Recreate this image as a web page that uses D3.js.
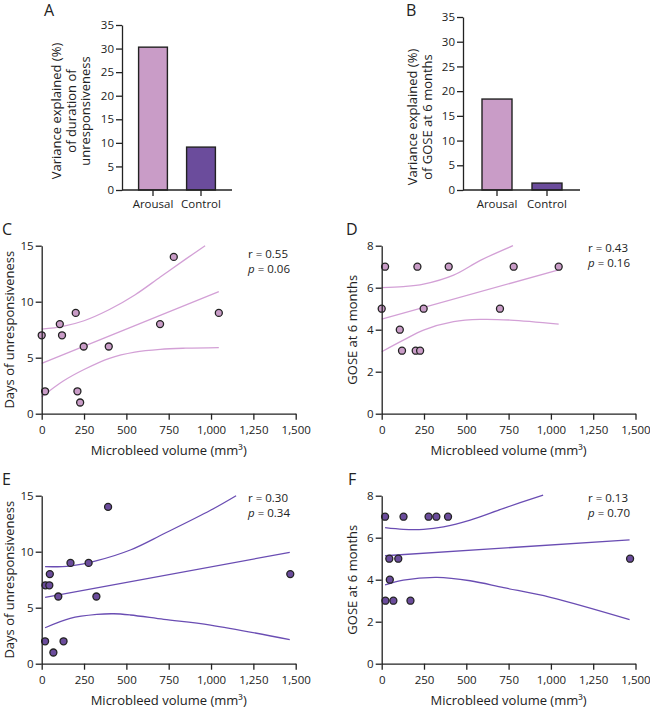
<!DOCTYPE html>
<html>
<head>
<meta charset="utf-8">
<script src="https://cdn.jsdelivr.net/npm/d3@7"></script>
<style>
  body { margin: 0; background: #fff; }
  text { font-family: "Open Sans", sans-serif; fill: #222; }
</style>
</head>
<body>
<script>
// bar panels (A, B)
const barCategories = ['Arousal', 'Control'];
const varianceDuration = [30.3, 9.1];
const varianceGose = [18.4, 1.4];
const varianceTicks = [0, 5, 10, 15, 20, 25, 30, 35];

// scatter panels (C-F): each subject's microbleed volume and outcome
const arousalVolume = [0, 20, 107, 120, 201, 211, 227, 248, 396, 699, 780, 1046];
const arousalDays = [7, 2, 8, 7, 9, 2, 1, 6, 6, 8, 14, 9];
const arousalGose = [5, 7, 4, 3, 3, 7, 3, 5, 7, 5, 7, 7];
const controlVolume = [20, 22, 45, 48, 69, 98, 129, 170, 277, 323, 392, 1468];
const controlDays = [2, 7, 7, 8, 1, 6, 2, 9, 9, 6, 14, 8];
const controlGose = [7, 3, 5, 4, 3, 5, 7, 3, 7, 7, 7, 5];

const volumeTicks = [0, 250, 500, 750, 1000, 1250, 1500];
const daysTicks = [0, 5, 10, 15];
const goseTicks = [0, 2, 4, 6, 8];

// regression lines and 95% bands as [volume, value]
const fitC = [[0, 4.5], [1046, 10.9]];
const upperC = [[0, 7.55], [125, 7.8], [250, 8.3], [400, 9.3], [550, 10.6], [700, 12.2], [850, 13.8], [965, 15]];
const lowerC = [[0, 1.5], [125, 2.9], [250, 3.95], [400, 4.95], [550, 5.5], [700, 5.75], [850, 5.85], [1046, 5.9]];
const fitD = [[0, 4.5], [1046, 6.85]];
const upperD = [[0, 6.0], [128, 6.05], [247, 6.17], [425, 6.6], [583, 7.3], [776, 8.0]];
const lowerD = [[0, 2.95], [128, 3.5], [247, 3.98], [425, 4.38], [583, 4.49], [760, 4.46], [1046, 4.27]];
const fitE = [[20, 5.92], [1465, 9.94]];
const upperE = [[20, 8.66], [168, 8.72], [326, 9.2], [523, 10.15], [721, 11.6], [997, 13.7], [1148, 15]];
const lowerE = [[20, 3.21], [168, 4.05], [326, 4.4], [425, 4.46], [523, 4.35], [721, 3.96], [997, 3.45], [1465, 2.14]];
const fitF = [[20, 5.14], [1465, 5.9]];
const upperF = [[20, 6.48], [128, 6.4], [247, 6.4], [365, 6.52], [523, 6.84], [721, 7.4], [954, 8.03]];
const lowerF = [[20, 3.75], [128, 3.98], [326, 4.11], [523, 3.95], [721, 3.62], [997, 3.16], [1465, 2.1]];

const rValues = ['0.55', '0.43', '0.30', '0.13'];
const pValues = ['0.06', '0.16', '0.34', '0.70'];

const arousalFill = '#c99cc7';
const controlFill = '#6b4c9c';
const arousalLine = '#d3a0d6';
const controlLine = '#6a4db3';
const ink = '#222';

const svg = d3.select('body').append('svg')
  .attr('width', 650)
  .attr('height', 708);

function styleAxis(g) {
  g.selectAll('path, line').attr('stroke', ink).attr('stroke-width', 1.3);
  g.selectAll('text').attr('font-size', 11.5).attr('fill', ink)
    .attr('font-family', '"Open Sans", sans-serif');
}

function panelLetter(letter, x, y) {
  svg.append('text').attr('x', x).attr('y', y)
    .attr('font-size', 16).text(letter);
}

// bar chart panel
function barPanel(o) {
  const y = d3.scaleLinear().domain([0, 35]).range([o.bottom, o.top]);
  const x = d3.scaleBand().domain(barCategories)
    .range([o.bandLeft, o.bandRight]).paddingInner(0.4).paddingOuter(0.2);

  svg.append('g').selectAll('rect')
    .data(o.values)
    .enter()
    .append('rect')
    .attr('x', (d, i) => x(barCategories[i]))
    .attr('y', d => y(d))
    .attr('width', x.bandwidth())
    .attr('height', d => o.bottom - y(d))
    .attr('fill', (d, i) => i === 0 ? arousalFill : controlFill)
    .attr('stroke', ink)
    .attr('stroke-width', 1.4);

  svg.append('g')
    .attr('transform', `translate(${o.left},0)`)
    .call(d3.axisLeft(y).tickValues(varianceTicks).tickSize(6).tickPadding(2).tickSizeOuter(0))
    .call(styleAxis);

  const xa = svg.append('g')
    .attr('transform', `translate(0,${o.bottom})`)
    .call(d3.axisBottom(x).tickSize(6).tickPadding(4).tickSizeOuter(0))
    .call(styleAxis);
  xa.select('.domain').remove();
  svg.append('line')
    .attr('x1', o.left).attr('x2', o.right)
    .attr('y1', o.bottom).attr('y2', o.bottom)
    .attr('stroke', ink).attr('stroke-width', 1.3);

  const label = svg.append('text')
    .attr('transform', `translate(${o.labelX},${o.labelY}) rotate(-90)`)
    .attr('text-anchor', 'middle')
    .attr('font-size', 13);
  o.label.forEach((line, i) => {
    label.append('tspan').attr('x', 0).attr('dy', i === 0 ? 0 : 14.5).text(line);
  });
}

// scatter panel with regression line and confidence band
function scatterPanel(o) {
  const x = d3.scaleLinear().domain([0, 1500]).range([o.left, o.right]);
  const y = d3.scaleLinear().domain([0, o.yMax]).range([o.bottom, o.top]);
  const line = d3.line().x(d => x(d[0])).y(d => y(d[1])).curve(d3.curveCatmullRom);

  [o.upper, o.fit, o.lower].forEach(pts => {
    svg.append('path')
      .datum(pts)
      .attr('d', line)
      .attr('fill', 'none')
      .attr('stroke', o.lineColor)
      .attr('stroke-width', 1.3);
  });

  svg.append('g').selectAll('circle')
    .data(o.xs.map((v, i) => ({ x: v, y: o.ys[i] })))
    .enter()
    .append('circle')
    .attr('cx', d => x(d.x))
    .attr('cy', d => y(d.y))
    .attr('r', 3.5)
    .attr('fill', o.fill)
    .attr('stroke', ink)
    .attr('stroke-width', 1.3);

  svg.append('g')
    .attr('transform', `translate(${o.left},0)`)
    .call(d3.axisLeft(y).tickValues(o.yTicks).tickSize(6).tickPadding(2).tickSizeOuter(0))
    .call(styleAxis);

  svg.append('g')
    .attr('transform', `translate(0,${o.bottom})`)
    .call(d3.axisBottom(x).tickValues(volumeTicks).tickFormat(d3.format(',')).tickSize(6).tickPadding(6).tickSizeOuter(0))
    .call(styleAxis);

  svg.append('text')
    .attr('x', (o.left + o.right) / 2)
    .attr('y', o.bottom + 41)
    .attr('text-anchor', 'middle')
    .attr('font-size', 13)
    .text('Microbleed volume (mm³)');

  svg.append('text')
    .attr('transform', `translate(${o.left - o.labelGap},${(o.top + o.bottom) / 2}) rotate(-90)`)
    .attr('text-anchor', 'middle')
    .attr('font-size', 13)
    .text(o.yLabel);

  svg.append('text')
    .attr('x', o.statX).attr('y', o.statY)
    .attr('font-size', 11.5)
    .text('r = ' + o.r);
  const p = svg.append('text')
    .attr('x', o.statX).attr('y', o.statY + 15)
    .attr('font-size', 11.5);
  p.append('tspan').attr('font-style', 'italic').text('p');
  p.append('tspan').text(' = ' + o.p);
}

barPanel({
  values: varianceDuration, left: 122, right: 232, bandLeft: 129, bandRight: 225,
  top: 25, bottom: 190, labelX: 61, labelY: 111,
  label: ['Variance explained (%)', 'of duration of', 'unresponsiveness']
});
barPanel({
  values: varianceGose, left: 463, right: 580, bandLeft: 472, bandRight: 572,
  top: 17, bottom: 190, labelX: 417, labelY: 117,
  label: ['Variance explained (%)', 'of GOSE at 6 months']
});

scatterPanel({
  xs: arousalVolume, ys: arousalDays, fit: fitC, upper: upperC, lower: lowerC,
  left: 41.7, right: 295.7, top: 245.7, bottom: 413.7, yMax: 15, yTicks: daysTicks,
  yLabel: 'Days of unresponsiveness', labelGap: 27.5, fill: arousalFill, lineColor: arousalLine,
  r: rValues[0], p: pValues[0], statX: 248, statY: 258
});
scatterPanel({
  xs: arousalVolume, ys: arousalGose, fit: fitD, upper: upperD, lower: lowerD,
  left: 381.7, right: 635.5, top: 245.7, bottom: 413.7, yMax: 8, yTicks: goseTicks,
  yLabel: 'GOSE at 6 months', labelGap: 25, fill: arousalFill, lineColor: arousalLine,
  r: rValues[1], p: pValues[1], statX: 588, statY: 252
});
scatterPanel({
  xs: controlVolume, ys: controlDays, fit: fitE, upper: upperE, lower: lowerE,
  left: 41.7, right: 295.7, top: 495.7, bottom: 663.7, yMax: 15, yTicks: daysTicks,
  yLabel: 'Days of unresponsiveness', labelGap: 27.5, fill: controlFill, lineColor: controlLine,
  r: rValues[2], p: pValues[2], statX: 248, statY: 502
});
scatterPanel({
  xs: controlVolume, ys: controlGose, fit: fitF, upper: upperF, lower: lowerF,
  left: 381.7, right: 635.5, top: 495.7, bottom: 663.7, yMax: 8, yTicks: goseTicks,
  yLabel: 'GOSE at 6 months', labelGap: 25, fill: controlFill, lineColor: controlLine,
  r: rValues[3], p: pValues[3], statX: 588, statY: 502
});

panelLetter('A', 44, 16);
panelLetter('B', 406, 16);
panelLetter('C', 2, 235);
panelLetter('D', 346, 235);
panelLetter('E', 2, 485);
panelLetter('F', 348, 485);
</script>
</body>
</html>
